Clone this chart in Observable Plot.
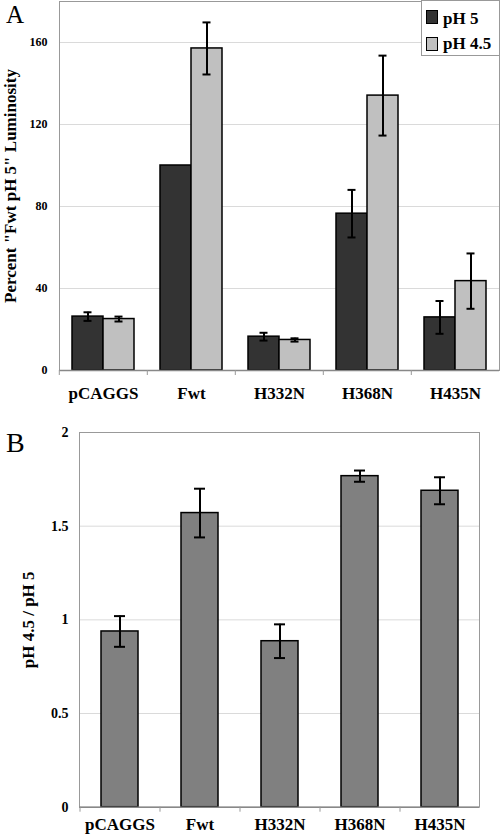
<!DOCTYPE html>
<html>
<head>
<meta charset="utf-8">
<script src="https://cdn.jsdelivr.net/npm/d3@7"></script>
<script src="https://cdn.jsdelivr.net/npm/@observablehq/plot@0.6"></script>
<style>
  html, body { margin: 0; padding: 0; background: #fff; }
  #wrap { position: relative; width: 500px; height: 839px; background: #fff; font-family: "Liberation Serif", "Times New Roman", serif; }
  #wrap svg { display: block; }
  .letter { position: absolute; font-family: "Liberation Serif", "Times New Roman", serif; line-height: 1; color: #000; }
  .legend { position: absolute; left: 421px; top: 0; width: 77px; height: 54px; border: 1px solid #999; background: #fff; }
  .sw { position: absolute; left: 4px; width: 10px; height: 12px; border: 1px solid #000; }
  .lt { position: absolute; left: 21px; font-size: 17px; font-weight: bold; line-height: 17px; color: #000; white-space: nowrap; }
</style>
</head>
<body>
<div id="wrap">
  <div id="a"></div>
  <div id="b"></div>
  <div class="letter" style="left:6px;top:2px;font-size:25px;">A</div>
  <div class="letter" style="left:6px;top:429px;font-size:28px;">B</div>
  <div class="legend">
    <div class="sw" style="top:9px;background:#333333;"></div>
    <div class="lt" style="top:9px;">pH 5</div>
    <div class="sw" style="top:36px;background:#c0c0c0;"></div>
    <div class="lt" style="top:34px;">pH 4.5</div>
  </div>
</div>
<script>
// ---- data ----
const categories = ["pCAGGS", "Fwt", "H332N", "H368N", "H435N"];
const series = ["pH 5", "pH 4.5"];
const ph5 = [26.3, 100, 16.5, 76.5, 25.9];
const ph5Err = [2.1, 0, 1.9, 11.6, 8.0];
const ph45 = [25.1, 157.1, 14.9, 134.1, 43.6];
const ph45Err = [1.2, 12.7, 0.8, 19.5, 13.5];
const ratio = [0.938, 1.57, 0.886, 1.767, 1.689];
const ratioErr = [0.082, 0.13, 0.09, 0.03, 0.072];
const ticksA = [0, 40, 80, 120, 160];
const ticksB = [0, 0.5, 1, 1.5, 2];
const labelA = "Percent \"Fwt pH 5\" Luminosity";
const labelB = "pH 4.5 / pH 5";

const font = "'Liberation Serif', 'Times New Roman', serif";

// ---- panel A ----
const tableA = categories.flatMap((c, i) => [
  {cat: c, series: series[0], value: ph5[i], err: ph5Err[i]},
  {cat: c, series: series[1], value: ph45[i], err: ph45Err[i]}
]);
const errA = tableA.filter(d => d.err > 0).map(d => ({...d, lo: d.value - d.err, hi: d.value + d.err}));

const chartA = Plot.plot({
  width: 500, height: 420,
  marginLeft: 58, marginRight: 1, marginTop: 1, marginBottom: 50,
  style: {fontFamily: font, fontWeight: "bold", color: "#000", background: "#fff"},
  fx: {domain: categories, padding: 0, axis: null},
  x: {domain: series, paddingInner: 0, paddingOuter: 0.38, axis: null},
  y: {domain: [0, 180], axis: null},
  color: {domain: series, range: ["#333333", "#c0c0c0"]},
  marks: [
    Plot.gridY(ticksA.filter(t => t > 0), {stroke: "#dadada", strokeOpacity: 1}),
    Plot.frame({facet: "super", stroke: "#999"}),
    Plot.axisY({ticks: ticksA, tickSize: 0, tickPadding: 12, fontSize: 12, label: null, tickFormat: d => String(d)}),
    Plot.axisY({ticks: [], tickSize: 0, fontSize: 17, label: labelA, labelAnchor: "center", labelOffset: 56, labelArrow: "none"}),
    Plot.barY(tableA, {fx: "cat", x: "series", y: "value", fill: "series", stroke: "#000", strokeWidth: 1.5}),
    Plot.ruleX(errA, {fx: "cat", x: "series", y1: "lo", y2: "hi", stroke: "#000", strokeWidth: 2}),
    Plot.tickY(errA, {fx: "cat", x: "series", y: "lo", stroke: "#000", strokeWidth: 2, insetLeft: 11.5, insetRight: 11.5}),
    Plot.tickY(errA, {fx: "cat", x: "series", y: "hi", stroke: "#000", strokeWidth: 2, insetLeft: 11.5, insetRight: 11.5}),
    Plot.ruleY([0], {stroke: "#888", strokeWidth: 1.5}),
    Plot.axisFx({anchor: "bottom", tickSize: 0, tickPadding: 16, fontSize: 17, label: null}),
    Plot.axisFx({anchor: "bottom", tickSize: 5, tickFormat: () => "", dx: -44.2, stroke: "#999", label: null})
  ]
});
document.getElementById("a").appendChild(chartA);

// ---- panel B ----
const tableB = categories.map((c, i) => ({cat: c, value: ratio[i], err: ratioErr[i], lo: ratio[i] - ratioErr[i], hi: ratio[i] + ratioErr[i]}));

const chartB = Plot.plot({
  width: 500, height: 419,
  marginLeft: 79, marginRight: 21, marginTop: 12, marginBottom: 32.3,
  style: {fontFamily: font, fontWeight: "bold", color: "#000", background: "#fff"},
  x: {domain: categories, paddingInner: 0.54, paddingOuter: 0.27, axis: null},
  y: {domain: [0, 2], axis: null},
  marks: [
    Plot.gridY(ticksB.filter(t => t > 0 && t < 2), {stroke: "#dadada", strokeOpacity: 1}),
    Plot.frame({stroke: "#999"}),
    Plot.axisY({ticks: ticksB, tickSize: 0, tickPadding: 11, fontSize: 14, label: null, tickFormat: d => String(d)}),
    Plot.axisY({ticks: [], tickSize: 0, fontSize: 17, label: labelB, labelAnchor: "center", labelOffset: 58, labelArrow: "none"}),
    Plot.barY(tableB, {x: "cat", y: "value", fill: "#808080", stroke: "#000", strokeWidth: 1.5}),
    Plot.ruleX(tableB, {x: "cat", y1: "lo", y2: "hi", stroke: "#000", strokeWidth: 2}),
    Plot.tickY(tableB, {x: "cat", y: "lo", stroke: "#000", strokeWidth: 2, insetLeft: 13, insetRight: 13}),
    Plot.tickY(tableB, {x: "cat", y: "hi", stroke: "#000", strokeWidth: 2, insetLeft: 13, insetRight: 13}),
    Plot.ruleY([0], {stroke: "#888", strokeWidth: 1.5}),
    Plot.axisX({tickSize: 0, tickPadding: 11, fontSize: 17, label: null}),
    Plot.axisX({tickSize: 5, tickFormat: () => "", dx: -40, stroke: "#999", label: null})
  ]
});
document.getElementById("b").appendChild(chartB);
</script>
</body>
</html>
